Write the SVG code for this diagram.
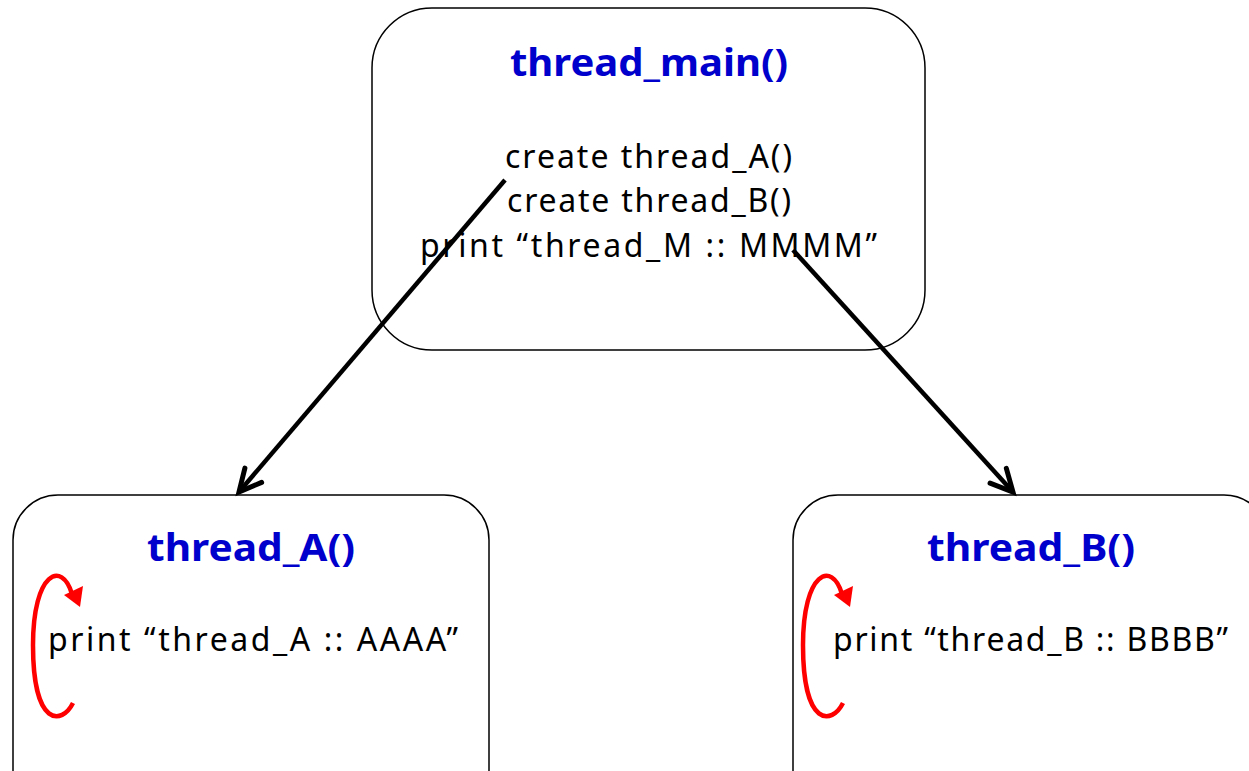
<svg xmlns="http://www.w3.org/2000/svg" width="1249" height="771" viewBox="0 0 1249 771">
  <style>
    .box { fill: #ffffff; stroke: #000000; stroke-width: 1.5; }
    .title { font-family: "Noto Sans", "Open Sans", sans-serif; font-weight: bold; font-size: 37px; fill: #0000cc; }
    .body { font-family: "Noto Sans", "Open Sans", sans-serif; font-size: 32px; fill: #000000; }
    .link { fill: none; stroke: #000000; stroke-width: 4.5; }
    .loop { fill: none; stroke: #ff0000; stroke-width: 4.5; }
    .loophead { fill: #ff0000; }
  </style>
  <defs>
    <marker id="arrowOpen" markerUnits="userSpaceOnUse" viewBox="-30 -20 40 40" refX="0" refY="0" markerWidth="40" markerHeight="40" orient="auto">
      <path d="M -22,-11 L 0,0 L -22,11" fill="none" stroke="#000000" stroke-width="5" stroke-linecap="round" stroke-linejoin="miter"/>
    </marker>
  </defs>

  <!-- main thread -->
  <g id="thread_main">
    <rect class="box" x="372" y="8" width="553" height="342" rx="60" ry="60"/>
    <text class="title" x="510" y="76" textLength="278" lengthAdjust="spacingAndGlyphs">thread_main()</text>
    <text class="body" x="505" y="168" textLength="287" lengthAdjust="spacing">create thread_A()</text>
    <text class="body" x="507" y="212" textLength="284" lengthAdjust="spacing">create thread_B()</text>
    <text class="body" x="420" y="257" textLength="457" lengthAdjust="spacing">print “thread_M :: MMMM”</text>
  </g>

  <!-- worker thread A -->
  <g id="thread_A">
    <rect class="box" x="13" y="495" width="476" height="320" rx="45" ry="45"/>
    <text class="title" x="147" y="561" textLength="208" lengthAdjust="spacingAndGlyphs">thread_A()</text>
    <text class="body" x="48" y="651" textLength="410" lengthAdjust="spacing">print “thread_A :: AAAA”</text>
    <path class="loop" d="M 73,703 C 62,725 33,728 33,645 C 33,572 62,560 72,594"/>
    <polygon class="loophead" points="64,595 83,586 80,607"/>
  </g>

  <!-- worker thread B -->
  <g id="thread_B">
    <rect class="box" x="793" y="495" width="476" height="320" rx="45" ry="45"/>
    <text class="title" x="927" y="561" textLength="208" lengthAdjust="spacingAndGlyphs">thread_B()</text>
    <text class="body" x="833" y="651" textLength="395" lengthAdjust="spacing">print “thread_B :: BBBB”</text>
    <path class="loop" d="M 843,703 C 832,725 803,728 803,645 C 803,572 832,560 842,594"/>
    <polygon class="loophead" points="834,595 853,586 850,607"/>
  </g>

  <!-- connectors -->
  <g id="connectors">
    <line class="link" x1="505" y1="180" x2="239" y2="492" marker-end="url(#arrowOpen)"/>
    <line class="link" x1="793" y1="250" x2="1013" y2="492" marker-end="url(#arrowOpen)"/>
  </g>
</svg>
